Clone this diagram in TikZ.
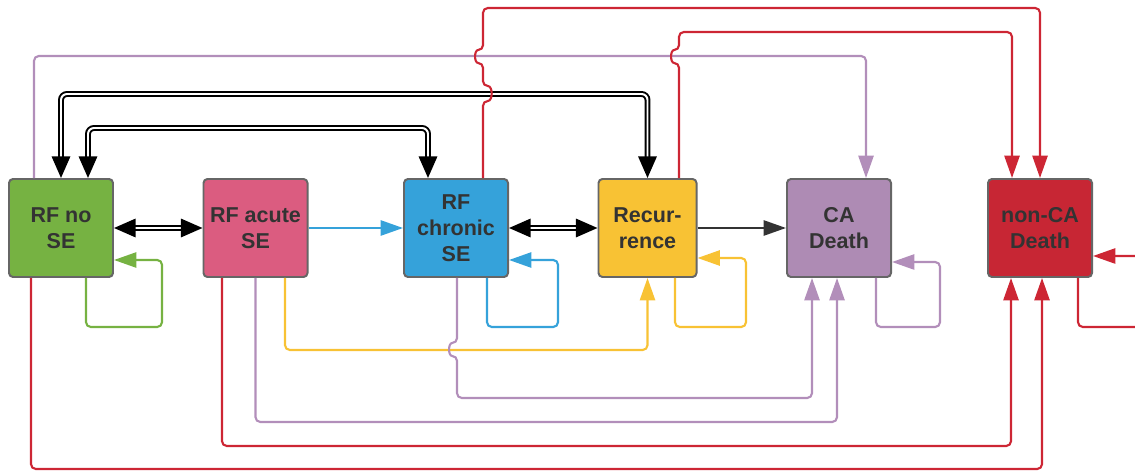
\documentclass[tikz,border=0pt]{standalone}
\usepackage{fontspec}
\setmainfont{Liberation Sans}
\usetikzlibrary{arrows.meta}
\usetikzlibrary{calc}

\begin{document}
\begin{tikzpicture}[x=0.025cm, y=-0.025cm,
    state/.style={draw={rgb,255:red,102;green,102;blue,102}, text={rgb,255:red,51;green,51;blue,51}, line width=1.4pt, rectangle, rounded corners=0.1cm, minimum width=2.6cm, minimum height=2.45cm, inner sep=0pt, align=center, font=\bfseries\fontsize{15.3pt}{18.5pt}\selectfont},
    link/.style={line width=1.5pt, rounded corners=0.12cm, -{Triangle[length=0.56cm, width=0.38cm]}},
    lnGreen/.style={link, draw={rgb,255:red,118;green,178;blue,66}},
    lnBlue/.style={link, draw={rgb,255:red,53;green,162;blue,218}},
    lnYellow/.style={link, draw={rgb,255:red,248;green,194;blue,52}},
    lnPurple/.style={link, draw={rgb,255:red,178;green,142;blue,186}},
    lnRed/.style={link, draw={rgb,255:red,205;green,38;blue,52}},
    lnDark/.style={link, draw={rgb,255:red,51;green,51;blue,51}},
    twoway/.style={draw=black, double=white, double distance=1.4pt, line width=1.4pt, rounded corners=0.15cm, {Triangle[length=0.54cm, width=0.46cm]}-{Triangle[length=0.54cm, width=0.46cm]}}]

    \useasboundingbox (0,0) rectangle (1135,471);
    \clip (0,0) rectangle (1135,471);

    \node[state, fill={rgb,255:red,118;green,178;blue,66}] (ndNoSE) at (61,228) {RF no\\SE};

    \node[state, fill={rgb,255:red,219;green,92;blue,128}] (ndAcuteSE) at (255.5,228) {RF acute\\SE};

    \node[state, fill={rgb,255:red,53;green,162;blue,218}] (ndChronicSE) at (456,228) {RF\\chronic\\SE};

    \node[state, fill={rgb,255:red,248;green,194;blue,52}, minimum width=2.45cm] (ndRecur) at (647.5,228) {Recur-\\rence};

    \node[state, fill={rgb,255:red,174;green,139;blue,180}] (ndCADeath) at (839,228) {CA\\Death};

    \node[state, fill={rgb,255:red,199;green,38;blue,52}] (ndNonCADeath) at (1040,228) {non-CA\\Death};

    \draw[twoway] (ndNoSE.east) -- (ndAcuteSE.west);
    \draw[twoway] (ndChronicSE.east) -- (ndRecur.west);
    \draw[twoway] ($(ndNoSE.north)+(27,0)$) -- ++(0,-50) -| ($(ndChronicSE.north)+(-28,0)$);
    \draw[twoway] (ndNoSE.north) -- ++(0,-84) -| (ndRecur.north);

    \draw[lnBlue] (ndAcuteSE.east) -- (ndChronicSE.west);
    \draw[lnDark] (ndRecur.east) -- (ndCADeath.west);

    \draw[lnPurple] ($(ndNoSE.north)+(-27,0)$) -- ++(0,-122) -| ($(ndCADeath.north)+(27,0)$);
    \draw[lnRed] ($(ndChronicSE.north)+(27,0)$) -- ++(0,-77) .. controls +(10,0) and +(10,0) .. ++(0,-15) -- ++(0,-23) .. controls +(-9,0) and +(-9,0) .. ++(0,-13) -- ++(0,-42) -| (ndNonCADeath.north);
    \draw[lnRed] ($(ndRecur.north)+(31.5,0)$) -- ++(0,-115) .. controls +(-9,0) and +(-9,0) .. ++(0,-13) -- ++(0,-18) -| ($(ndNonCADeath.north)+(-28,0)$);

    \draw[lnGreen] ($(ndNoSE.south)+(25,0)$) |- ++(76,49) |- ($(ndNoSE.east)+(0,32)$);
    \draw[lnBlue] ($(ndChronicSE.south)+(31,0)$) |- ++(71,49) |- ($(ndChronicSE.east)+(0,32)$);
    \draw[lnYellow] ($(ndRecur.south)+(27.5,0)$) |- ++(71,49) |- ($(ndRecur.east)+(0,30)$);
    \draw[lnPurple] ($(ndCADeath.south)+(37,0)$) |- ++(64,49) |- ($(ndCADeath.east)+(0,34)$);
    \draw[lnRed] ($(ndNonCADeath.south)+(38,0)$) |- ++(80,49) |- ($(ndNonCADeath.east)+(0,28)$);

    \draw[lnYellow] ($(ndAcuteSE.south)+(29.5,0)$) -- ++(0,72) -| (ndRecur.south);
    \draw[lnPurple] ($(ndChronicSE.south)+(1,0)$) -- ++(0,65) .. controls +(-9,0) and +(-9,0) .. ++(0,13) -- ++(0,42) -| ($(ndCADeath.south)+(-27,0)$);
    \draw[lnPurple] (ndAcuteSE.south) -- ++(0,144) -| ($(ndCADeath.south)+(-2,0)$);
    \draw[lnRed] ($(ndAcuteSE.south)+(-33.5,0)$) -- ++(0,168) -| ($(ndNonCADeath.south)+(-29,0)$);
    \draw[lnRed] ($(ndNoSE.south)+(-30,0)$) -- ++(0,191) -| ($(ndNonCADeath.south)+(2,0)$);
\end{tikzpicture}
\end{document}
